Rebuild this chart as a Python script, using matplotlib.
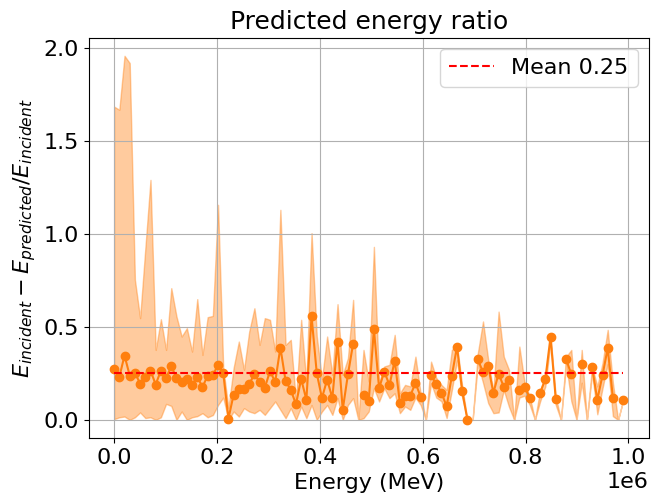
import matplotlib.pyplot as plt
from matplotlib.ticker import MultipleLocator
import numpy as np

nan = np.nan

# energy bins (99 bins over 0 - 1e6 MeV)
energy = np.linspace(0, 1e6, 100)[:-1]

ratio_mean = [
    0.276, 0.230, 0.346, 0.238, 0.254, 0.195, 0.233, 0.265, 0.190, 0.265,
    0.227, 0.287, 0.227, 0.204, 0.220, 0.188, 0.233, 0.176, 0.238, 0.240,
    0.296, 0.253, 0.007, 0.136, 0.168, 0.167, 0.194, 0.244, 0.204, 0.172,
    0.262, 0.204, 0.389, 0.210, 0.161, 0.084, 0.220, 0.108, 0.557, 0.251,
    0.117, 0.217, 0.117, 0.421, 0.055, 0.244, 0.410, nan, 0.134, 0.099,
    0.488, 0.170, 0.260, 0.186, 0.319, 0.091, 0.129, 0.129, 0.199, 0.124,
    nan, 0.240, 0.192, 0.147, 0.072, 0.237, 0.394, 0.154, 0.000, nan,
    0.326, 0.256, 0.287, 0.145, 0.249, 0.177, 0.217, nan, 0.158, 0.179,
    0.118, nan, 0.145, 0.220, 0.446, 0.113, nan, 0.326, 0.244, nan,
    0.301, nan, 0.283, 0.108, 0.240, 0.385, 0.120, nan, 0.109,
]

ratio_upper = [
    1.684, 1.667, 1.957, 1.918, 0.753, 0.547, 0.920, 1.290, 0.376, 0.541,
    0.376, 0.708, 0.556, 0.448, 0.493, 0.367, 0.649, 0.349, 0.552, 0.559,
    1.156, 0.280, 0.065, 0.280, 0.421, 0.269, 0.475, 0.600, 0.403, 0.547,
    0.538, 0.367, 1.129, 0.403, 0.430, 0.100, 0.538, 0.200, 1.004, 0.450,
    0.220, 0.448, 0.242, 0.622, 0.242, 0.332, 0.645, 0.000, 0.376, 0.206,
    0.930, 0.200, 0.287, 0.296, 0.457, 0.143, 0.188, 0.180, 0.340, 0.140,
    0.000, 0.313, 0.226, 0.188, 0.161, 0.376, 0.403, 0.180, 0.000, 0.000,
    0.358, 0.529, 0.323, 0.150, 0.582, 0.340, 0.269, 0.000, 0.394, 0.200,
    0.125, 0.000, 0.161, 0.233, 0.448, 0.125, 0.000, 0.340, 0.376, 0.000,
    0.376, 0.000, 0.287, 0.180, 0.305, 0.484, 0.199, 0.000, 0.109,
]

ratio_lower = [
    0.004, 0.014, 0.018, 0.000, 0.014, 0.040, 0.010, 0.014, 0.000, 0.014,
    0.086, 0.075, 0.000, 0.045, 0.000, 0.014, 0.020, 0.036, 0.014, 0.026,
    0.080, 0.120, 0.000, 0.045, 0.018, 0.063, 0.045, 0.036, 0.054, 0.027,
    0.063, 0.099, 0.054, 0.009, 0.063, 0.000, 0.072, 0.009, 0.080, 0.000,
    0.045, 0.080, 0.027, 0.117, 0.000, 0.080, 0.117, 0.000, 0.009, 0.045,
    0.170, 0.099, 0.170, 0.117, 0.143, 0.036, 0.072, 0.054, 0.120, 0.080,
    0.000, 0.197, 0.120, 0.100, 0.010, 0.160, 0.320, 0.120, 0.000, 0.000,
    0.300, 0.200, 0.090, 0.036, 0.040, 0.160, 0.070, 0.000, 0.120, 0.130,
    0.080, 0.000, 0.100, 0.180, 0.420, 0.080, 0.000, 0.300, 0.100, 0.000,
    0.200, 0.000, 0.250, 0.030, 0.170, 0.300, 0.020, 0.000, 0.109,
]

mean_ratio = 0.25

fig, ax = plt.subplots(figsize=(6.52, 4.95), dpi=100)
fig.subplots_adjust(left=0.136, right=0.995, bottom=0.115, top=0.924)

ax.fill_between(energy, ratio_lower, ratio_upper, color='C1', alpha=0.4, linewidth=1)
ax.plot(energy, ratio_mean, '-o', color='C1', markersize=6, linewidth=1.5)
ax.plot([energy[0], energy[-1]], [mean_ratio, mean_ratio], 'r--', linewidth=1.5,
        label=f'Mean {mean_ratio:.2f}')

ax.set_title('Predicted energy ratio', fontsize=18)
ax.set_xlabel('Energy (MeV)', fontsize=16)
ax.set_ylabel(r'$E_{incident} - E_{predicted}/E_{incident}$', fontsize=16)
ax.yaxis.set_major_locator(MultipleLocator(0.5))
ax.tick_params(labelsize=16)
ax.xaxis.get_offset_text().set_fontsize(16)
ax.grid(True)
ax.legend(fontsize=16, loc='upper right')

fig.savefig('out.png')
